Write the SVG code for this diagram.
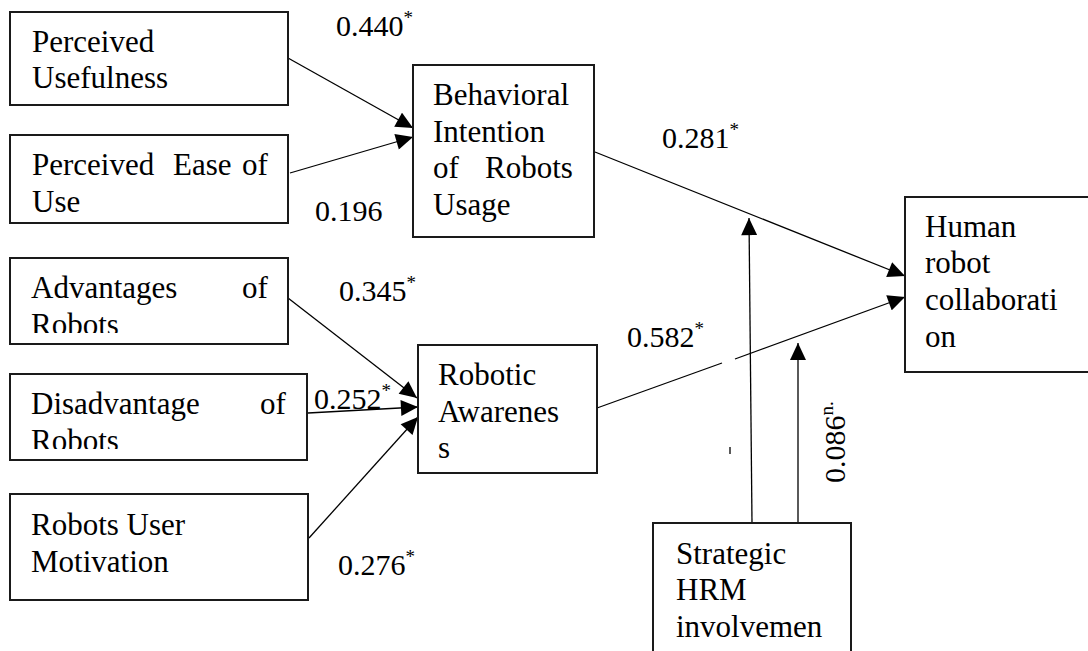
<svg xmlns="http://www.w3.org/2000/svg" width="1088" height="651" viewBox="0 0 1088 651" font-family="'Liberation Serif', 'Times New Roman', serif">
  <style>
    .box { fill: #fff; stroke: #1a1a1a; stroke-width: 2; }
    .lbl { font-family: 'Liberation Serif', 'Times New Roman', serif; font-size: 31px; fill: #000; }
    .num { font-family: 'Liberation Serif', 'Times New Roman', serif; font-size: 30px; fill: #000; }
    .sup { font-size: 19px; }
    .conn { fill: none; stroke: #000; stroke-width: 1.3; }
  </style>
  <defs>
    <marker id="arrow" markerUnits="userSpaceOnUse" markerWidth="18" markerHeight="16" viewBox="0 0 16 15" refX="16" refY="7.5" orient="auto">
      <path d="M0,0 L16,7.5 L0,15 Z" fill="#000"/>
    </marker>
    <clipPath id="clipAdv"><rect x="10" y="258" width="280" height="75"/></clipPath>
    <clipPath id="clipDis"><rect x="10" y="374" width="300" height="75"/></clipPath>
  </defs>
  <rect width="1088" height="651" fill="#fff"/>

  <!-- connectors -->
  <g id="connectors">
    <line class="conn" x1="288" y1="58" x2="413" y2="128" marker-end="url(#arrow)"/>
    <line class="conn" x1="290" y1="173" x2="413" y2="137" marker-end="url(#arrow)"/>
    <line class="conn" x1="595" y1="152" x2="905" y2="276" marker-end="url(#arrow)"/>
    <line class="conn" x1="597" y1="408" x2="722" y2="363"/>
    <line class="conn" x1="735" y1="359" x2="905" y2="297" marker-end="url(#arrow)"/>
    <line class="conn" x1="288" y1="298" x2="417" y2="398" marker-end="url(#arrow)"/>
    <line class="conn" x1="308" y1="413" x2="418" y2="407" marker-end="url(#arrow)"/>
    <line class="conn" x1="309" y1="538" x2="418" y2="417" marker-end="url(#arrow)"/>
    <line class="conn" x1="752" y1="523" x2="749" y2="218" marker-end="url(#arrow)"/>
    <line class="conn" x1="798" y1="523" x2="798" y2="343" marker-end="url(#arrow)"/>
    <line class="conn" x1="730" y1="447" x2="730" y2="454" stroke-width="2"/>
  </g>

  <!-- path coefficients -->
  <g id="coefficients">
    <text class="num" x="336" y="36">0.440<tspan class="sup" dy="-12">*</tspan></text>
    <text class="num" x="315" y="221">0.196</text>
    <text class="num" x="662" y="148">0.281<tspan class="sup" dy="-12">*</tspan></text>
    <text class="num" x="339" y="301">0.345<tspan class="sup" dy="-12">*</tspan></text>
    <text class="num" x="314" y="409">0.252<tspan class="sup" dy="-12">*</tspan></text>
    <text class="num" x="338" y="575">0.276<tspan class="sup" dy="-12">*</tspan></text>
    <text class="num" x="627" y="347">0.582<tspan class="sup" dy="-12">*</tspan></text>
    <text class="num" transform="translate(845,483) rotate(-90)">0.086<tspan class="sup" dy="-12">n.</tspan></text>
  </g>

  <g id="perceived-usefulness">
    <rect class="box" x="10" y="12" width="278" height="93"/>
    <text class="lbl" x="32" y="52">Perceived</text>
    <text class="lbl" x="32" y="88">Usefulness</text>
  </g>

  <g id="perceived-ease">
    <rect class="box" x="10" y="135" width="278" height="88"/>
    <text class="lbl" y="175"><tspan x="32">Perceived</tspan><tspan x="173">Ease</tspan><tspan x="242">of</tspan></text>
    <text class="lbl" x="32" y="212">Use</text>
  </g>

  <g id="behavioral-intention">
    <rect class="box" x="413" y="65" width="181" height="172"/>
    <text class="lbl" x="433" y="105">Behavioral</text>
    <text class="lbl" x="433" y="142">Intention</text>
    <text class="lbl" y="178"><tspan x="433">of</tspan><tspan x="485">Robots</tspan></text>
    <text class="lbl" x="433" y="215">Usage</text>
  </g>

  <g id="advantages">
    <rect class="box" x="10" y="258" width="278" height="86"/>
    <g clip-path="url(#clipAdv)">
      <text class="lbl" y="298"><tspan x="31">Advantages</tspan><tspan x="242">of</tspan></text>
      <text class="lbl" x="31" y="335">Robots</text>
    </g>
  </g>

  <g id="disadvantage">
    <rect class="box" x="10" y="374" width="297" height="86"/>
    <g clip-path="url(#clipDis)">
      <text class="lbl" y="414"><tspan x="31">Disadvantage</tspan><tspan x="260">of</tspan></text>
      <text class="lbl" x="31" y="451">Robots</text>
    </g>
  </g>

  <g id="user-motivation">
    <rect class="box" x="10" y="494" width="298" height="106"/>
    <text class="lbl" x="31" y="535">Robots User</text>
    <text class="lbl" x="31" y="572">Motivation</text>
  </g>

  <g id="robotic-awareness">
    <rect class="box" x="418" y="345" width="179" height="128"/>
    <text class="lbl" x="438" y="385">Robotic</text>
    <text class="lbl" x="438" y="422">Awarenes</text>
    <text class="lbl" x="438" y="458">s</text>
  </g>

  <g id="human-robot-collaboration">
    <rect class="box" x="905" y="197" width="200" height="175"/>
    <text class="lbl" x="925" y="237">Human</text>
    <text class="lbl" x="925" y="273">robot</text>
    <text class="lbl" x="925" y="310">collaborati</text>
    <text class="lbl" x="925" y="347">on</text>
  </g>

  <g id="strategic-hrm">
    <rect class="box" x="653" y="523" width="198" height="140"/>
    <text class="lbl" x="676" y="564">Strategic</text>
    <text class="lbl" x="676" y="600">HRM</text>
    <text class="lbl" x="676" y="637">involvemen</text>
  </g>
</svg>
